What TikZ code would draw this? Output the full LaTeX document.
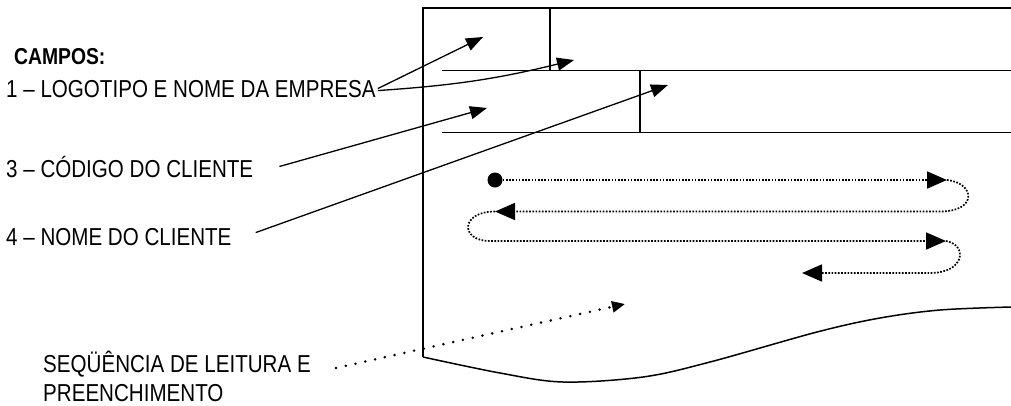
\documentclass[tikz,border=0pt]{standalone}
\usepackage{fontspec}
\setmainfont{Liberation Sans}
\newfontfamily\condfont[FakeStretch=0.84]{Liberation Sans}
\usetikzlibrary{arrows.meta}
\begin{document}
\begin{tikzpicture}[x=1pt,y=-1pt,
  formline/.style={line width=1.5pt},
  lab/.style={anchor=base west, inner sep=0pt, font=\condfont\fontsize{24.5}{29}\selectfont},
  ptr/.style={line width=1.3pt, -{Triangle[length=17pt,width=13pt]}},
  seqline/.style={line width=1.7pt, dash pattern=on 1.7pt off 1.5pt, -{Triangle[length=20pt,width=17pt]}},
  seqdots/.style={line width=2.8pt, line cap=round, dash pattern=on 0pt off 10pt, -{Triangle[length=13pt,width=11pt]}},
  startdot/.style={circle, fill, inner sep=0pt, minimum size=15pt}
]
\useasboundingbox (0,0) rectangle (1011,405);

% form
\draw[formline] (1011,8) -- (423,8) -- (423,357);
\draw[formline] plot[smooth, tension=0.55] coordinates {(423,357) (500,373) (563,382) (643,377) (710,362) (817,332) (880,318) (940,310) (1011,307)};
\draw[formline] (550,8) -- (550,70.7);
\draw[formline] (442,70.7) -- (1011,70.7);
\draw[formline] (640,70.7) -- (640,132.7);
\draw[formline] (442,132.7) -- (1011,132.7);

% labels
\node[lab, font=\condfont\bfseries\fontsize{23}{27}\selectfont] (campos) at (14,64) {CAMPOS:};
\node[lab] (lab1) at (6,97) {1 – LOGOTIPO E NOME DA EMPRESA};
\node[lab] (lab3) at (6,177) {3 – CÓDIGO DO CLIENTE};
\node[lab] (lab4) at (6,245) {4 – NOME DO CLIENTE};
\node[lab] (seqA) at (43,372) {SEQÜÊNCIA DE LEITURA E};
\node[lab] (seqB) at (43,401) {PREENCHIMENTO};

% pointer targets
\coordinate (tLogo) at (483,37);
\coordinate (tEmp) at (574,60);
\coordinate (tCod) at (487,108);
\coordinate (tNome) at (668,85);
\coordinate (tSeq) at (625,304);

\draw[ptr] ([xshift=2pt]lab1.east) -- (tLogo);
\draw[ptr] ([xshift=2pt,yshift=-2pt]lab1.east) to[bend right=5] (tEmp);
\draw[ptr] ([xshift=26pt]lab3.east) -- (tCod);
\draw[ptr] ([xshift=24pt,yshift=4pt]lab4.east) -- (tNome);
\draw[seqdots] ([xshift=25pt,yshift=4pt]seqA.base east) -- (tSeq);

% reading sequence
\node[startdot] (start) at (495,180) {};
\coordinate (r1) at (947,180);
\coordinate (r2) at (495,211.5);
\coordinate (r3) at (946,241);
\coordinate (r4) at (802,273);
\draw[seqline] (start) -- (r1);
\draw[seqline] (r1) .. controls (975,183) and (978,211.5) .. (940,211.5) -- (r2);
\draw[seqline] (r2) .. controls (460,211.5) and (460,241) .. (490,241) -- (r3);
\draw[seqline] (r3) .. controls (968,245) and (965,273) .. (930,273) -- (r4);
\end{tikzpicture}
\end{document}
